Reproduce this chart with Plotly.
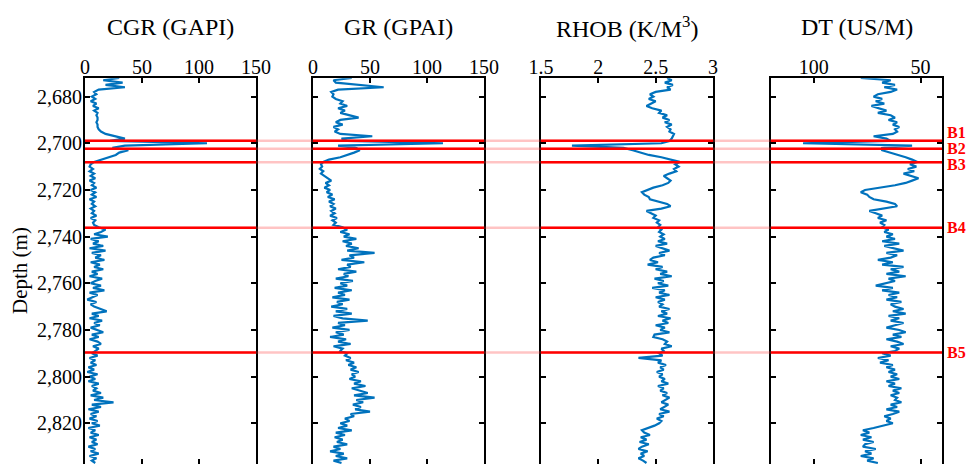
import plotly.graph_objects as go

# Sampling depths (m), 1 m step
depth = list(range(2672, 2838))

cgr = [30, 16, 33, 18, 35, 12, 8, 10,
       6, 9, 5, 10, 7, 12, 8, 11, 10, 11,
       11, 10, 11, 11, 12, 14, 18, 28, 35, 22,
       107, 35, 24, 38, 30, 27, 20, 13, 8, 5,
       4, 7, 4, 8, 5, 9, 4, 8, 6, 10,
       5, 9, 6, 10, 4, 8, 6, 9, 5, 8,
       6, 10, 5, 9, 7, 8, 12, 18, 14, 8,
       20, 5, 12, 7, 16, 4, 18, 6, 14, 9,
       17, 5, 13, 8, 16, 6, 11, 4, 15, 9,
       5, 14, 7, 17, 4, 11, 6, 2, 10, 5,
       8, 14, 19, 6, 12, 4, 15, 8, 13, 5,
       10, 16, 6, 12, 4, 11, 14, 7, 12, 9,
       6, 11, 4, 9, 5, 10, 3, 8, 2, 11,
       4, 9, 3, 12, 6, 10, 7, 14, 5, 16,
       8, 25, 6, 14, 3, 12, 5, 10, 4, 11,
       6, 13, 3, 9, 5, 12, 4, 10, 6, 11,
       3, 9, 5, 12, 4, 10, 6, 9]

gr = [34, 18, 20, 40, 62, 22, 16, 18,
      17, 20, 26, 24, 30, 22, 28, 24, 32, 40,
      24, 20, 26, 18, 22, 19, 24, 52, 25, 30,
      114, 22, 38, 41, 36, 30, 24, 14, 9, 7,
      8, 6, 9, 7, 10, 12, 16, 11, 14, 10,
      15, 12, 17, 13, 19, 14, 18, 15, 20, 16,
      19, 15, 21, 17, 20, 18, 26, 30, 24, 32,
      27, 38, 26, 34, 29, 40, 30, 54, 32, 36,
      25, 45, 30, 33, 22, 38, 27, 31, 20, 35,
      24, 30, 19, 34, 22, 28, 17, 32, 21, 26,
      16, 30, 20, 34, 18, 26, 48, 22, 28, 17,
      32, 20, 27, 15, 29, 22, 33, 18, 26, 24,
      30, 28, 33, 29, 36, 31, 38, 33, 40, 34,
      37, 32, 42, 36, 46, 34, 40, 48, 36, 54,
      38, 44, 35, 42, 37, 50, 33, 36, 28, 32,
      24, 30, 22, 34, 20, 28, 19, 26, 21, 30,
      18, 24, 15, 27, 20, 30, 18, 25]

rhob = [2.60, 2.64, 2.58, 2.65, 2.60, 2.63, 2.50, 2.45,
        2.48, 2.44, 2.50, 2.46, 2.42, 2.47, 2.55, 2.53, 2.60, 2.56,
        2.62, 2.58, 2.64, 2.60, 2.63, 2.62, 2.66, 2.65, 2.64, 2.62,
        2.55, 1.77, 2.22, 2.30, 2.37, 2.44, 2.55, 2.64, 2.71, 2.67,
        2.70, 2.66, 2.68, 2.62, 2.57, 2.60, 2.63, 2.61, 2.56, 2.48,
        2.42, 2.38, 2.40, 2.44, 2.45, 2.52, 2.60, 2.63, 2.55, 2.42,
        2.46, 2.50, 2.48, 2.53, 2.51, 2.54, 2.52, 2.55, 2.53, 2.57,
        2.54, 2.58, 2.52, 2.60, 2.50, 2.56, 2.62, 2.53, 2.58, 2.48,
        2.45, 2.52, 2.43, 2.56, 2.50, 2.60, 2.54, 2.64, 2.49, 2.57,
        2.52, 2.61, 2.47, 2.58, 2.53, 2.62, 2.50, 2.58, 2.52, 2.56,
        2.53, 2.62, 2.55, 2.60, 2.52, 2.63, 2.56, 2.61, 2.50, 2.58,
        2.54, 2.62, 2.49, 2.48, 2.56, 2.60, 2.58, 2.64, 2.55, 2.57,
        2.53, 2.56, 2.35, 2.55, 2.52, 2.59, 2.54, 2.57, 2.51, 2.56,
        2.53, 2.58, 2.55, 2.61, 2.52, 2.57, 2.54, 2.60, 2.56, 2.62,
        2.58, 2.55, 2.61, 2.57, 2.54, 2.62, 2.53, 2.57, 2.51, 2.55,
        2.53, 2.49, 2.44, 2.38, 2.40, 2.45, 2.37, 2.42, 2.36, 2.44,
        2.38, 2.35, 2.43, 2.37, 2.40, 2.35, 2.39, 2.42]

dt = [78, 64, 68, 62, 67, 61, 64, 70,
      72, 68, 71, 67, 73, 69, 66, 70, 64, 62,
      65, 61, 63, 60, 62, 61, 63, 72, 66, 64,
      105, 54, 68, 68, 64, 60, 57, 54, 51.5, 55,
      52, 56, 53, 58, 55, 51, 54, 57, 62, 70,
      76, 78, 75, 74, 72, 66, 62, 61, 68, 74,
      71, 68, 70, 66, 69, 67, 68, 65, 67, 63,
      66, 62, 68, 60, 67, 63, 58, 66, 61, 64,
      70, 63, 68, 58, 64, 60, 66, 57, 65, 62,
      67, 71, 63, 68, 60, 65, 61, 66, 59, 64,
      62, 58, 63, 57, 65, 60, 64, 58, 62, 66,
      60, 57, 63, 59, 66, 61, 58, 64, 60, 62,
      68, 64, 70, 65, 69, 63, 66, 62, 65, 61,
      64, 60, 66, 62, 65, 59, 63, 60, 64, 61,
      62, 59, 64, 61, 66, 60, 63, 67, 64, 66,
      63, 67, 72, 77, 74, 78, 73, 77, 72, 76,
      77, 71, 76, 73, 78, 72, 75, 70]

for name, arr in (("cgr", cgr), ("gr", gr), ("rhob", rhob), ("dt", dt)):
    if len(arr) != len(depth):
        raise ValueError(f"{name}: {len(arr)} values for {len(depth)} depths")

# Track titles and x-axis settings
track_titles = ["CGR (GAPI)", "GR (GPAI)", "RHOB (K/M<sup>3</sup>)", "DT (US/M)"]
track_ranges = [[0, 150], [0, 150], [1.5, 3], [120, 40]]
track_ticks = [[0, 50, 100, 150], [0, 50, 100, 150], [1.5, 2, 2.5, 3], [100, 50]]
track_ticktext = [["0", "50", "100", "150"], ["0", "50", "100", "150"],
                  ["1.5", "2", "2.5", "3"], ["100", "50"]]

depth_ticks = [2680, 2700, 2720, 2740, 2760, 2780, 2800, 2820]
depth_ticktext = ["2,680", "2,700", "2,720", "2,740", "2,760", "2,780", "2,800", "2,820"]

# Boundary depths and labels
bound_depths = [2698.9, 2702.3, 2708.1, 2736.2, 2789.7]
bound_labels = ["B1", "B2", "B3", "B4", "B5"]
bound_label_shift = [8, 0.5, -2, 0, 0]

W, H = 971, 464
track_px = [(85, 256), (313, 484), (541, 713), (771, 942)]
plot_top = 78.3
depth_range = [2837.44, 2672.16]

SERIF = '"Liberation Serif", "Times New Roman", Times, serif'
BLUE = "#0072BD"

fig = go.Figure()
curves = [cgr, gr, rhob, dt]
for i, vals in enumerate(curves):
    fig.add_trace(go.Scatter(
        x=vals, y=depth, mode="lines",
        line=dict(color=BLUE, width=2.2),
        xaxis=f"x{i + 1}" if i else "x", yaxis=f"y{i + 1}" if i else "y",
        showlegend=False, hoverinfo="skip",
    ))

layout = dict(
    width=W, height=H,
    margin=dict(l=0, r=0, t=0, b=0),
    paper_bgcolor="white", plot_bgcolor="white",
    font=dict(family=SERIF, color="black", size=19),
    showlegend=False,
)

axis_common = dict(
    showline=True, linecolor="black", linewidth=2, mirror="ticks",
    ticks="inside", ticklen=5, tickwidth=2, tickcolor="black",
    showgrid=False, zeroline=False, fixedrange=True, automargin=False,
)

y_dom = [0, 1 - plot_top / H]
for i, (x0, x1) in enumerate(track_px):
    sfx = str(i + 1) if i else ""
    layout[f"xaxis{sfx}"] = dict(
        axis_common, domain=[x0 / W, x1 / W], range=track_ranges[i],
        side="top", tickvals=track_ticks[i], ticktext=track_ticktext[i],
        anchor=f"y{sfx}", tickfont=dict(family=SERIF, size=20),
        ticklabelstandoff=-6,
    )
    ya = dict(
        axis_common, domain=y_dom, range=depth_range,
        anchor=f"x{sfx}", tickvals=depth_ticks,
    )
    if i == 0:
        ya.update(ticktext=depth_ticktext, tickfont=dict(family=SERIF, size=20),
                  ticklabelstandoff=-3)
    else:
        ya.update(showticklabels=False, matches="y")
    layout[f"yaxis{sfx}"] = ya

fig.update_layout(**layout)

# Boundary lines: faint across the gaps, solid red inside each track
left_px, right_px = track_px[0][0], track_px[-1][1]
for d in bound_depths:
    fig.add_shape(type="line", xref="paper", yref="y",
                  x0=left_px / W, x1=right_px / W, y0=d, y1=d,
                  line=dict(color="rgba(255,60,60,0.3)", width=2.5), layer="above")
    for x0, x1 in track_px:
        fig.add_shape(type="line", xref="paper", yref="y",
                      x0=x0 / W, x1=x1 / W, y0=d, y1=d,
                      line=dict(color="#FF0000", width=2.5), layer="above")

for d, lab, sh in zip(bound_depths, bound_labels, bound_label_shift):
    fig.add_annotation(text=f"<b>{lab}</b>", xref="paper", yref="y",
                       x=946 / W, y=d, yshift=sh, xanchor="left", yanchor="middle",
                       showarrow=False, borderpad=0,
                       font=dict(family=SERIF, size=16, color="#FF0000"))

# Track titles
for (x0, x1), t in zip(track_px, track_titles):
    fig.add_annotation(text=t, xref="paper", yref="paper",
                       x=(x0 + x1) / 2 / W, y=1 - 27 / H,
                       xanchor="center", yanchor="middle", showarrow=False,
                       font=dict(family=SERIF, size=24, color="black"))

# Depth axis title
fig.add_annotation(text="Depth (m)", xref="paper", yref="paper",
                   x=20 / W, y=1 - 271 / H, textangle=-90,
                   xanchor="center", yanchor="middle", showarrow=False,
                   font=dict(family=SERIF, size=21, color="black"))

fig.write_html("out.html")
